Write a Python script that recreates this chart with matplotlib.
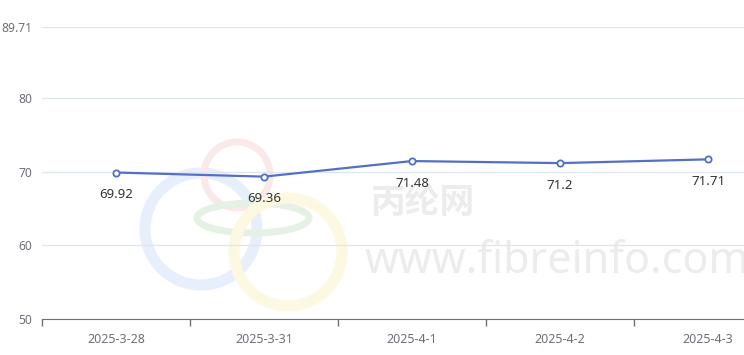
import matplotlib.pyplot as plt
from matplotlib.patches import Circle, Ellipse

dates = ['2025-3-28', '2025-3-31', '2025-4-1', '2025-4-2', '2025-4-3']
values = [69.92, 69.36, 71.48, 71.2, 71.71]
y_ticks = [50, 60, 70, 80, 89.71]
y_labels = ['50', '60', '70', '80', '89.71']

plt.rcParams['font.family'] = ['Noto Sans', 'DejaVu Sans']

fig = plt.figure(figsize=(7.44, 3.55), dpi=100)

# faint watermark behind the chart
bg = fig.add_axes([0, 0, 1, 1], zorder=0)
bg.set_xlim(0, 744)
bg.set_ylim(355, 0)
bg.axis('off')
bg.add_patch(Circle((201, 229), 56, fill=False, lw=8, ec='#e8effc'))
bg.add_patch(Circle((237, 175), 33, fill=False, lw=5, ec='#fbe8e8'))
bg.add_patch(Ellipse((253, 218), 112, 30, fill=False, lw=5, ec='#e6f1e6'))
bg.add_patch(Circle((288, 252), 54, fill=False, lw=8, ec='#fdf8e2'))
bg.text(423, 203, '丙纶网', fontsize=25, fontweight='bold', color='#ececec',
        ha='center', va='center', family=['Noto Sans CJK SC'])
bg.text(365, 262, 'www.fibreinfo.com', fontsize=31, fontweight='bold', color='#ececec',
        ha='left', va='center')

ax = fig.add_axes([42 / 744, 36 / 355, 740 / 744, 292 / 355], zorder=1)
ax.patch.set_alpha(0)
x = list(range(len(dates)))
ax.plot(x, values, color='#5470c6', lw=1.6, marker='o', ms=4.5,
        mfc='white', mec='#5470c6', mew=1.3, zorder=3)
for xi, v in zip(x, values):
    ax.annotate(f'{v:g}', (xi, v), xytext=(0, -16), textcoords='offset points',
                ha='center', va='center', fontsize=9.5, color='#333333')

ax.set_xlim(-0.5, len(dates) - 0.5)
ax.set_ylim(50, 89.71)
ax.set_yticks(y_ticks)
ax.set_yticklabels(y_labels)
ax.set_xticks(x)
ax.set_xticklabels(dates)
ax.set_xticks([i - 0.5 for i in range(len(dates) + 1)], minor=True)
ax.tick_params(axis='x', which='major', length=0, pad=10, labelsize=9, labelcolor='#6e7079')
ax.tick_params(axis='x', which='minor', length=5, color='#6e7079', width=1)
ax.tick_params(axis='y', length=0, pad=7, labelsize=8.7, labelcolor='#6e7079')
ax.grid(axis='y', color='#e0e6f1', lw=1)
ax.set_axisbelow(True)
for s in ['top', 'right', 'left']:
    ax.spines[s].set_visible(False)
ax.spines['bottom'].set_color('#6e7079')

fig.savefig('out.png', dpi=100)
